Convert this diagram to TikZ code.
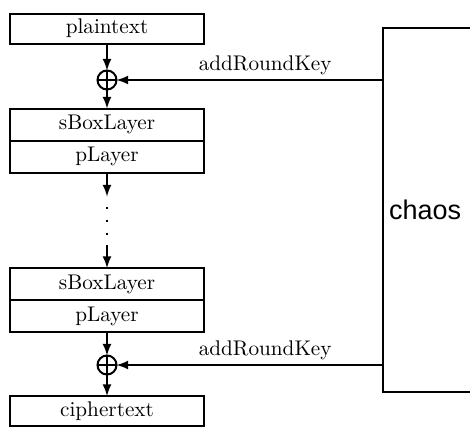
\documentclass[tikz,border=0pt]{standalone}
\usepackage{fontspec}
\newfontfamily\chaosfont{Liberation Sans}
\usetikzlibrary{positioning}

\begin{document}
\begin{tikzpicture}[x=0.5pt, y=-0.5pt, >=latex, line width=1pt,
    layer/.style = {draw, rectangle, outer sep=0pt, inner sep=0pt, minimum width=97pt, minimum height=16pt, font=\fontsize{10.6}{12}\selectfont},
    io/.style = {layer, minimum height=15pt},
    xor/.style = {draw, circle, minimum size=9.5pt, inner sep=0pt, outer sep=0pt,
        path picture={\draw[line width=0.8pt] (path picture bounding box.north) -- (path picture bounding box.south)
            (path picture bounding box.west) -- (path picture bounding box.east);}},
    keylabel/.style = {font=\fontsize{10.6}{12}\selectfont, inner sep=2pt}]
    \useasboundingbox (0,0) rectangle (470,428);

    \node[io] (plain) at (107,28.5) {plaintext};
    \node[xor] (xor1) [below=13.5pt of plain] {};
    \node[layer] (sbox1) [below=9.5pt of xor1] {sBoxLayer};
    \node[layer] (player1) [below=0pt of sbox1] {pLayer};
    \coordinate[below=12pt of player1] (gap1);
    \coordinate[below=17pt of player1] (dots1);
    \coordinate[below=31pt of player1] (dots2);
    \node[layer] (sbox2) [below=47.75pt of player1] {sBoxLayer};
    \coordinate[above=11.5pt of sbox2] (gap2);
    \node[layer] (player2) [below=0pt of sbox2] {pLayer};
    \node[xor] (xor2) [below=11.75pt of player2] {};
    \node[io] (cipher) [below=10.75pt of xor2] {ciphertext};

    \node[draw, anchor=north west, minimum height=182pt, text width=52pt, inner xsep=3pt, align=left,
        font={\fontsize{13.5}{16}\chaosfont}] (chaos) at (382,27) {chaos};

    \path[->] (plain) edge (xor1);
    \path[->] (xor1) edge (sbox1);
    \path[->] (player1) edge (gap1);
    \draw[dash pattern=on 1pt off 5.5pt] (dots1) -- (dots2);
    \path[->] (gap2) edge (sbox2);
    \path[->] (player2) edge (xor2);
    \path[->] (xor2) edge (cipher);
    \path[->] (chaos.west |- xor1) edge node[keylabel, above, pos=0.44] {addRoundKey} (xor1);
    \path[->] (chaos.west |- xor2) edge node[keylabel, above, pos=0.44] {addRoundKey} (xor2);

\end{tikzpicture}
\end{document}
